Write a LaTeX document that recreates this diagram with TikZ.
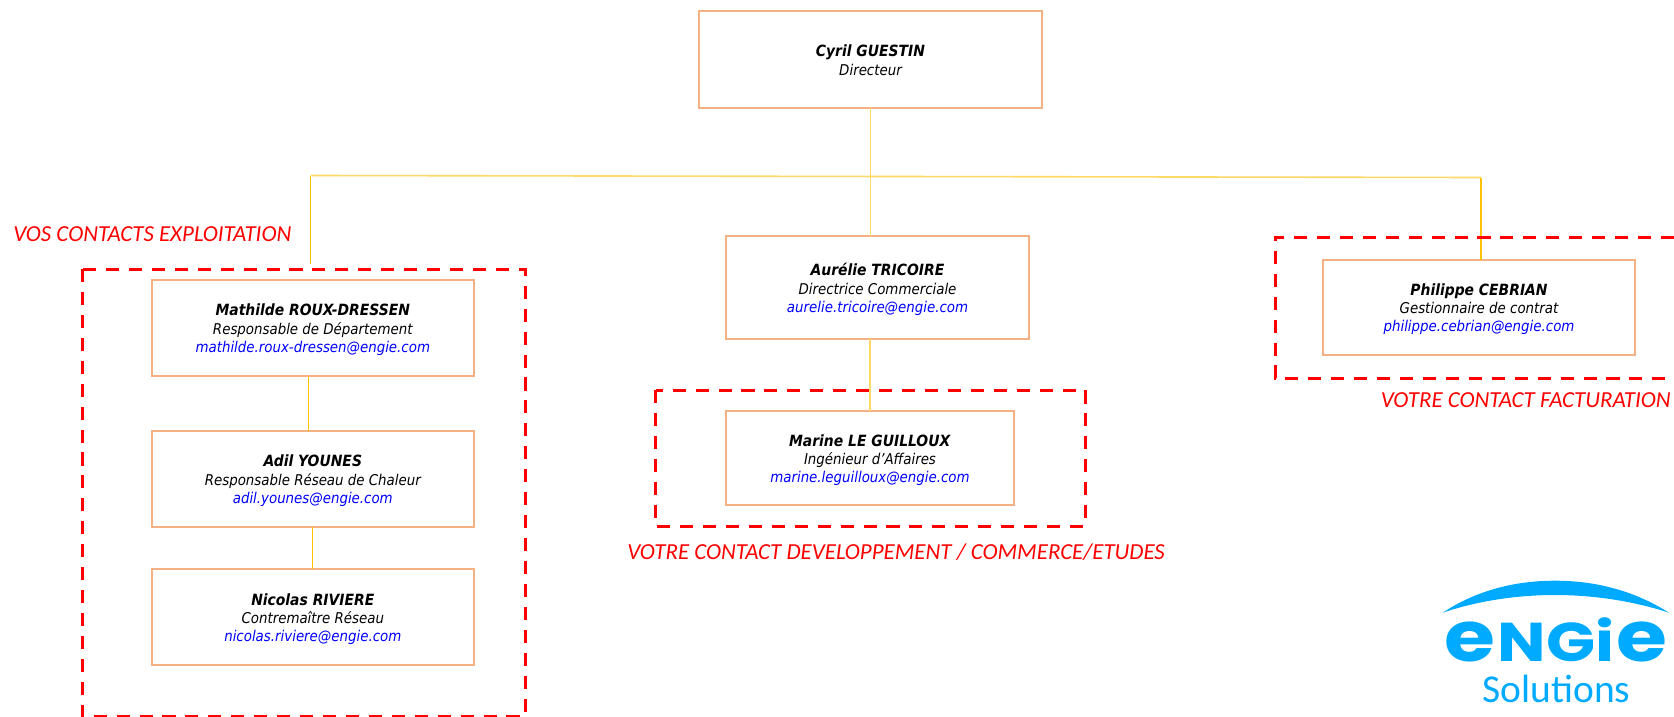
\documentclass[tikz,border=0pt]{standalone}
\usepackage{fontspec}
\setmainfont{DejaVu Sans Condensed}
\newfontfamily\labelfont{Carlito}
\newfontfamily\logofont{Poppins}[Scale=1]
\usetikzlibrary{calc}
\definecolor{boxline}{HTML}{F4B183}
\definecolor{linkA}{HTML}{FFD966}
\definecolor{linkB}{HTML}{FFC000}
\definecolor{mailblue}{HTML}{0000FF}
\definecolor{logoblue}{HTML}{00AAFF}
\newcommand{\nm}[2][12.2pt]{\rule{0pt}{#1}{\fontsize{11.6}{13.8}\selectfont\textbf{\itshape #2}}}
\newcommand{\who}[3]{\nm{#1}\\{\itshape #2}\\{\itshape\color{mailblue}#3}}
\newcommand{\bige}{\scalebox{1.28}{e}}
\tikzset{
  x=0.75pt,y=-0.75pt,
  person/.style={draw=boxline,line width=1.5pt,fill=white,align=center,inner sep=0pt,outer sep=0pt,
    font=\fontsize{11.15}{13.8}\selectfont},
  pbig/.style={person,minimum width=343*0.75pt,minimum height=97*0.75pt},
  pmid/.style={person,minimum width=303*0.75pt,minimum height=103*0.75pt},
  pmar/.style={person,minimum width=288*0.75pt,minimum height=94*0.75pt},
  pphi/.style={person,minimum width=312*0.75pt,minimum height=95*0.75pt},
  pleft/.style={person,minimum width=322*0.75pt,minimum height=96*0.75pt},
  redzone/.style={draw=red,line width=2.25pt,dash pattern=on 9.8pt off 7.4pt},
  linka/.style={draw=linkA,line width=1.2pt},
  linkb/.style={draw=linkB,line width=0.8pt},
  zonelabel/.style={text=red,inner sep=0pt,font=\labelfont\itshape\fontsize{17.2}{19}\selectfont},
}
\begin{document}
\begin{tikzpicture}
\useasboundingbox (0,0) rectangle (1674,717);

% junction and free ends
\coordinate (jl) at (310.7,175.5);
\coordinate (jr) at (1481,177.5);
\coordinate (leftend) at (310.7,264);

% connectors are laid below the boxes
\node[pbig] (cyril) at (870.5,59.3) {\nm[10.2pt]{Cyril GUESTIN}\\{\itshape Directeur}};
\node[pmid] (aurelie) at (877.5,287.5) {\who{Aurélie TRICOIRE}{Directrice Commerciale}{aurelie.tricoire@engie.com}};
\node[pmar] (marine) at (870,458) {\who{Marine LE GUILLOUX}{Ingénieur d’Affaires}{marine.leguilloux@engie.com}};
\node[pphi] (philippe) at (1479,307) {\who{Philippe CEBRIAN}{Gestionnaire de contrat}{philippe.cebrian@engie.com}};
\node[pleft] (mathilde) at (312.8,327.5) {\who{Mathilde ROUX-DRESSEN}{Responsable de Département}{mathilde.roux-dressen@engie.com}};
\node[pleft] (adil) at (312.8,478.5) {\who{Adil YOUNES}{Responsable Réseau de Chaleur}{adil.younes@engie.com}};
\node[pleft] (nicolas) at (312.8,617) {\who{Nicolas RIVIERE}{Contremaître Réseau}{nicolas.riviere@engie.com}};

\draw[linka] (cyril.south) -- (cyril.south |- aurelie.north);
\draw[linka] (jl) -- (jr);
\draw[linkb] (leftend) -- (jl);
\draw[linkb] (jr) -- (jr |- philippe.north);
\draw[linka] (marine.north) -- (marine.north |- aurelie.south);
\draw[linkb] ([xshift=-3.2pt]mathilde.south) -- ([xshift=-3.2pt]adil.north);
\draw[linkb] (adil.south) -- (nicolas.north);

% dashed zones
\draw[redzone] (82,269) rectangle (525,716);
\draw[redzone] (655.5,390) rectangle (1085,526);
\draw[redzone] (1674,237) -- (1275,237) -- (1275,378) -- (1674,378);

\node[zonelabel,anchor=west] (lab1) at (13,234) {VOS CONTACTS EXPLOITATION};
\node[zonelabel,anchor=west] (lab2) at (627,552) {VOTRE CONTACT DEVELOPPEMENT / COMMERCE/ETUDES};
\node[zonelabel,anchor=east] (lab3) at (1671,400) {VOTRE CONTACT FACTURATION};

% logo
\fill[logoblue] (1442.7,612.7) .. controls (1480,588) and (1520,580.7) .. (1555,580.7)
  .. controls (1590,580.7) and (1630,588) .. (1669,612.7)
  .. controls (1630,600) and (1590,595) .. (1555,595)
  .. controls (1520,595) and (1480,600) .. (1442.7,612.7) -- cycle;
\node[text=logoblue,inner sep=0pt,font=\logofont\bfseries\fontsize{41}{44}\selectfont,xscale=1.18,transform shape,anchor=base] (logoword) at (1556,661.5) {\bige\kern1.2pt NGi\kern1.2pt\bige};
\node[text=logoblue,inner sep=0pt,font=\labelfont\fontsize{29.6}{32}\selectfont,anchor=base] (logosub) at (1556.5,702) {Solutions};
\end{tikzpicture}
\end{document}
